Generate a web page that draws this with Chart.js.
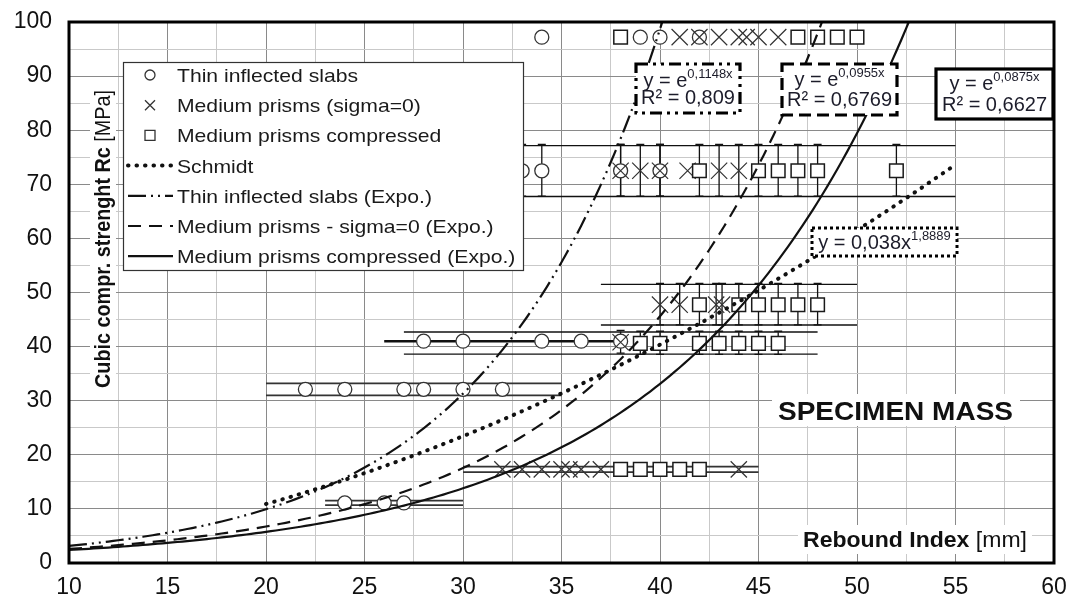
<!DOCTYPE html>
<html>
<head>
<meta charset="utf-8">
<script src="https://cdn.jsdelivr.net/npm/chart.js@4.4.1/dist/chart.umd.min.js"></script>
<style>
  html, body { margin: 0; padding: 0; background: #fff; }
  #wrap { width: 1072px; height: 601px; }
</style>
</head>
<body>
<div id="wrap"><canvas id="c" width="1072" height="601"></canvas></div>
<script>
// ---- Rebound index (x) vs cubic compressive strength Rc in MPa (y) ----

// Thin inflected slabs
const slabsX   = [34, 39, 40, 42,  33, 34, 38, 40,  28, 30, 34, 36, 38,  22, 24, 27, 28, 30, 32,  24, 26, 27];
const slabsY   = [97.2, 97.2, 97.2, 97.2,  72.5, 72.5, 72.5, 72.5,  41, 41, 41, 41, 41,
                  32.1, 32.1, 32.1, 32.1, 32.1, 32.1,  11.1, 11.1, 11.1];
const slabsErr = [0, 0, 0, 0,  4.7, 4.7, 4.7, 4.7,  0, 0, 0, 0, 0,  0, 0, 0, 0, 0, 0,  0, 0, 0];

// Medium prisms (sigma = 0)
const prismsX   = [41, 42, 43, 44, 44.4, 45, 46,  38, 39, 40, 41.4, 43, 44,  40, 41, 42.85, 43.15,  38,
                   32, 33, 34, 35, 35.4, 36, 37, 44];
const prismsY   = [97.2, 97.2, 97.2, 97.2, 97.2, 97.2, 97.2,  72.5, 72.5, 72.5, 72.5, 72.5, 72.5,
                   47.75, 47.75, 47.75, 47.75,  40.8,  17.3, 17.3, 17.3, 17.3, 17.3, 17.3, 17.3, 17.3];
const prismsErr = [0, 0, 0, 0, 0, 0, 0,  4.7, 4.7, 4.7, 0, 4.7, 4.7,  3.75, 3.75, 3.75, 3.75,  2.0,
                   0, 0, 0, 0, 0, 0, 0, 0];

// Medium prisms compressed
const comprX   = [38, 47, 48, 49, 50,  42, 45, 46, 47, 48, 52,  42, 44, 45, 46, 47, 48,
                  39, 40, 42, 43, 44, 45, 46,  38, 39, 40, 41, 42];
const comprY   = [97.2, 97.2, 97.2, 97.2, 97.2,  72.5, 72.5, 72.5, 72.5, 72.5, 72.5,
                  47.75, 47.75, 47.75, 47.75, 47.75, 47.75,  40.6, 40.6, 40.6, 40.6, 40.6, 40.6, 40.6,
                  17.3, 17.3, 17.3, 17.3, 17.3];
const comprErr = [0, 0, 0, 0, 0,  4.7, 4.7, 4.7, 4.7, 4.7, 4.7,  3.75, 3.75, 3.75, 3.75, 3.75, 3.75,
                  2.05, 2.05, 2.05, 2.05, 2.05, 2.05, 2.05,  0, 0, 0, 0, 0];

// Strength classes: centre, half width, rebound index range
const bandY    = [72.45, 47.75, 40.65, 32.1, 17.3, 11.1];
const bandHalf = [4.7, 3.75, 2.05, 1.1, 0.5, 0.42];
const bandFrom = [20, 37, 27, 20, 30, 23];
const bandTo   = [55, 50, 48, 35, 45, 30];

// Rebound range of the thin slabs at 41 MPa
const slabRangeY = 41, slabRangeFrom = 26, slabRangeTo = 38;

// Trend lines: y = e^(k x) and Schmidt y = a x^b
const expoK   = [0.1148, 0.0955, 0.0875];
const expoR2  = ['0,809', '0,6769', '0,6627'];
const powA = 0.038, powB = 1.8889;
const powRange = [20, 55];

const seriesNames = [
  'Thin inflected slabs',
  'Medium prisms (sigma=0)',
  'Medium prisms compressed',
  'Schmidt',
  'Thin inflected slabs (Expo.)',
  'Medium prisms - sigma=0 (Expo.)',
  'Medium prisms compressed (Expo.)'
];

const xTickLabels = ['10', '15', '20', '25', '30', '35', '40', '45', '50', '55', '60'];
const yTickLabels = ['0', '10', '20', '30', '40', '50', '60', '70', '80', '90', '100'];

// ---- helpers ----
const toPts = (xs, ys) => xs.map((v, i) => ({ x: v, y: ys[i] }));
const comma = v => String(v).replace('.', ',');

function expoCurve(k) {
  const pts = [];
  for (let i = 0; i <= 184; i++) {
    const xv = 10 + i * 0.25;
    const yv = Math.exp(k * xv);
    pts.push({ x: xv, y: yv });
    if (yv > 110) break;
  }
  return pts;
}
function powerCurve() {
  const pts = [];
  const n = Math.round((powRange[1] - powRange[0]) / 0.25);
  for (let i = 0; i <= n; i++) {
    const xv = powRange[0] + i * 0.25;
    pts.push({ x: xv, y: powA * Math.pow(xv, powB) });
  }
  return pts;
}

const INK = '#111';
const lineStyles = [
  { dash: [0.5, 8], width: 4, cap: 'round' },             // Schmidt
  { dash: [18, 5, 2, 5, 2, 5], width: 2.2, cap: 'butt' },  // thin slabs expo
  { dash: [13, 8], width: 2.2, cap: 'butt' },              // sigma=0 expo
  { dash: [], width: 2.2, cap: 'butt' }                    // compressed expo
];

const textFont = '"Liberation Sans", Arial, sans-serif';

function runsWidth(ctx, runs) {
  let w = 0;
  for (const r of runs) { ctx.font = r.font; w += ctx.measureText(r.text).width; }
  return w;
}
function drawRuns(ctx, runs, x, y, scale) {
  ctx.save();
  ctx.translate(x, y);
  ctx.scale(scale || 1, 1);
  let cx = 0;
  for (const r of runs) {
    ctx.font = r.font;
    ctx.fillText(r.text, cx, r.dy || 0);
    cx += ctx.measureText(r.text).width;
  }
  ctx.restore();
}

function drawMarker(ctx, kind, x, y, r) {
  ctx.save();
  ctx.fillStyle = '#fff';
  ctx.strokeStyle = '#333';
  ctx.lineWidth = 1.3;
  ctx.beginPath();
  if (kind === 'circle') {
    ctx.arc(x, y, r, 0, Math.PI * 2); ctx.fill(); ctx.stroke();
  } else if (kind === 'square') {
    ctx.rect(x - r, y - r, 2 * r, 2 * r); ctx.fill(); ctx.stroke();
  } else {
    ctx.moveTo(x - r, y - r); ctx.lineTo(x + r, y + r);
    ctx.moveTo(x + r, y - r); ctx.lineTo(x - r, y + r); ctx.stroke();
  }
  ctx.restore();
}

// error bars and class ranges, under the markers
const rangePlugin = {
  id: 'ranges',
  beforeDatasetsDraw(chart) {
    const { ctx, chartArea: a, scales: { x, y } } = chart;
    ctx.save();
    ctx.beginPath(); ctx.rect(a.left, a.top, a.width, a.height); ctx.clip();
    ctx.strokeStyle = INK;
    for (let i = 0; i < bandY.length; i++) {
      const x0 = x.getPixelForValue(bandFrom[i]), x1 = x.getPixelForValue(bandTo[i]);
      ctx.lineWidth = bandHalf[i] < 1.5 ? 1.8 : 1.4;
      ctx.strokeStyle = bandHalf[i] < 1.5 ? '#333' : INK;
      for (const s of [-1, 1]) {
        const py = y.getPixelForValue(bandY[i] + s * bandHalf[i]);
        ctx.beginPath(); ctx.moveTo(x0, py); ctx.lineTo(x1, py); ctx.stroke();
      }
    }
    // thick range line of the slabs
    ctx.strokeStyle = INK; ctx.lineWidth = 2.6;
    const ly = y.getPixelForValue(slabRangeY);
    ctx.beginPath();
    ctx.moveTo(x.getPixelForValue(slabRangeFrom), ly);
    ctx.lineTo(x.getPixelForValue(slabRangeTo), ly);
    ctx.stroke();
    // vertical error bars with caps
    ctx.lineWidth = 1.3;
    const sets = [[slabsX, slabsY, slabsErr], [prismsX, prismsY, prismsErr], [comprX, comprY, comprErr]];
    for (const [xs, ys, es] of sets) {
      xs.forEach((xv, i) => {
        if (!es[i]) return;
        const px = x.getPixelForValue(xv);
        const p0 = y.getPixelForValue(ys[i] + es[i]);
        const p1 = y.getPixelForValue(ys[i] - es[i]);
        ctx.beginPath();
        ctx.moveTo(px, p0); ctx.lineTo(px, p1);
        ctx.moveTo(px - 4, p0 - 1); ctx.lineTo(px + 4, p0 - 1);
        ctx.moveTo(px - 4, p1); ctx.lineTo(px + 4, p1);
        ctx.stroke();
      });
    }
    ctx.restore();
  }
};

// frame, legend, equations and titles
const overlayPlugin = {
  id: 'overlay',
  afterDraw(chart) {
    const { ctx, chartArea: a } = chart;
    ctx.save();
    ctx.textAlign = 'left';
    ctx.textBaseline = 'alphabetic';
    ctx.fillStyle = '#1a1a1a';

    // legend box
    const L = { x: 123, y: 62, w: 400, h: 208 };
    ctx.fillStyle = '#fff';
    ctx.fillRect(L.x, L.y, L.w, L.h);
    ctx.strokeStyle = '#333'; ctx.lineWidth = 1.2;
    ctx.strokeRect(L.x + 0.5, L.y + 0.5, L.w, L.h);
    const legFont = '19px ' + textFont;
    ctx.font = legFont;
    const legScale = 181 / ctx.measureText(seriesNames[0]).width;
    const kinds = ['circle', 'cross', 'square'];
    for (let i = 0; i < seriesNames.length; i++) {
      const ry = 75 + i * 30.2;
      if (i < 3) {
        drawMarker(ctx, kinds[i], 150, ry, 5);
      } else {
        const st = lineStyles[i - 3];
        ctx.save();
        ctx.strokeStyle = INK; ctx.lineWidth = st.width; ctx.lineCap = st.cap;
        ctx.setLineDash(st.dash);
        ctx.beginPath(); ctx.moveTo(128, ry); ctx.lineTo(173, ry); ctx.stroke();
        ctx.restore();
      }
      ctx.fillStyle = '#1a1a1a';
      drawRuns(ctx, [{ text: seriesNames[i], font: legFont }], 177, ry + 7, legScale);
    }

    // equation boxes
    const eqFont = '20px ' + textFont, supFont = '13px ' + textFont;
    const boxes = [
      { x: 636, y: 64, w: 104, h: 49, dash: [12, 5, 3, 5, 3, 5], k: 0, b1: 87, b2: 104 },
      { x: 782, y: 64, w: 115, h: 51, dash: [12, 6], k: 1, b1: 86, b2: 106 },
      { x: 936, y: 69, w: 117, h: 50, dash: [], k: 2, b1: 90, b2: 111 }
    ];
    for (const bx of boxes) {
      ctx.fillStyle = '#fff';
      ctx.fillRect(bx.x, bx.y, bx.w, bx.h);
      ctx.save();
      ctx.strokeStyle = '#000'; ctx.lineWidth = 3.2; ctx.setLineDash(bx.dash);
      ctx.strokeRect(bx.x, bx.y, bx.w, bx.h);
      ctx.restore();
      const cx = bx.x + bx.w / 2;
      const l1 = [{ text: 'y = e', font: eqFont }, { text: comma(expoK[bx.k]) + 'x', font: supFont, dy: -9 }];
      const l2 = [{ text: 'R² = ' + expoR2[bx.k], font: eqFont }];
      ctx.fillStyle = '#1c1c2a';
      drawRuns(ctx, l1, cx - runsWidth(ctx, l1) / 2, bx.b1);
      drawRuns(ctx, l2, cx - runsWidth(ctx, l2) / 2, bx.b2);
    }
    // Schmidt power law
    {
      const bx = { x: 812, y: 228, w: 145, h: 28 };
      ctx.fillStyle = '#fff';
      ctx.fillRect(bx.x, bx.y, bx.w, bx.h);
      ctx.save();
      ctx.strokeStyle = '#000'; ctx.lineWidth = 3; ctx.setLineDash([3, 3]);
      ctx.strokeRect(bx.x, bx.y, bx.w, bx.h);
      ctx.restore();
      const l = [{ text: 'y = ' + comma(powA) + 'x', font: eqFont }, { text: comma(powB), font: supFont, dy: -9 }];
      ctx.fillStyle = '#1c1c2a';
      drawRuns(ctx, l, bx.x + bx.w / 2 - runsWidth(ctx, l) / 2, 249);
    }

    // y axis title
    {
      ctx.fillStyle = '#fff';
      ctx.fillRect(90, 86, 26, 306);
      const runs = [
        { text: 'Cubic compr. strenght Rc ', font: 'bold 22px ' + textFont },
        { text: '[MPa]', font: '22px ' + textFont }
      ];
      const w = runsWidth(ctx, runs);
      ctx.save();
      ctx.translate(110, 239);
      ctx.rotate(-Math.PI / 2);
      ctx.fillStyle = '#111';
      drawRuns(ctx, runs, -149, 0, 298 / w);
      ctx.restore();
    }
    // x axis title
    {
      ctx.fillStyle = '#fff';
      ctx.fillRect(798, 525, 234, 29);
      const runs = [
        { text: 'Rebound Index ', font: 'bold 22px ' + textFont },
        { text: '[mm]', font: '22px ' + textFont }
      ];
      const w = runsWidth(ctx, runs);
      ctx.fillStyle = '#111';
      drawRuns(ctx, runs, 803, 547, 224 / w);
    }
    // specimen label
    {
      ctx.fillStyle = '#fff';
      ctx.fillRect(772, 394, 248, 32);
      const runs = [{ text: 'SPECIMEN MASS', font: 'bold 26px ' + textFont }];
      const w = runsWidth(ctx, runs);
      ctx.fillStyle = '#111';
      drawRuns(ctx, runs, 778, 420, 235 / w);
    }

    // plot frame
    ctx.strokeStyle = '#000';
    ctx.lineWidth = 3;
    ctx.strokeRect(a.left, a.top, a.right - a.left, a.bottom - a.top);
    ctx.restore();
  }
};

const markerBase = { showLine: false, pointBackgroundColor: '#fff', pointBorderColor: '#333',
                     pointHoverRadius: 0 };

new Chart(document.getElementById('c'), {
  type: 'scatter',
  data: {
    datasets: [
      { label: seriesNames[3], type: 'line', data: powerCurve(), order: 0,
        borderColor: INK, borderWidth: lineStyles[0].width, borderDash: lineStyles[0].dash,
        borderCapStyle: lineStyles[0].cap, pointRadius: 0, tension: 0, fill: false },
      { label: seriesNames[4], type: 'line', data: expoCurve(expoK[0]), order: 0,
        borderColor: INK, borderWidth: lineStyles[1].width, borderDash: lineStyles[1].dash,
        pointRadius: 0, tension: 0, fill: false },
      { label: seriesNames[5], type: 'line', data: expoCurve(expoK[1]), order: 0,
        borderColor: INK, borderWidth: lineStyles[2].width, borderDash: lineStyles[2].dash,
        pointRadius: 0, tension: 0, fill: false },
      { label: seriesNames[6], type: 'line', data: expoCurve(expoK[2]), order: 0,
        borderColor: INK, borderWidth: lineStyles[3].width,
        pointRadius: 0, tension: 0, fill: false },
      { label: seriesNames[2], data: toPts(comprX, comprY), order: 1, ...markerBase,
        pointStyle: 'rect', pointRadius: 9.6, pointBorderWidth: 1.5, pointBorderColor: '#1a1a1a' },
      { label: seriesNames[1], data: toPts(prismsX, prismsY), order: 2, ...markerBase,
        pointStyle: 'crossRot', pointRadius: 11.5, pointBorderWidth: 1.2 },
      { label: seriesNames[0], data: toPts(slabsX, slabsY), order: 3, ...markerBase,
        pointStyle: 'circle', pointRadius: 7, pointBorderWidth: 1.3 }
    ]
  },
  options: {
    responsive: false,
    animation: false,
    devicePixelRatio: 1,
    events: [],
    layout: { padding: { left: 0, right: 18, top: 22, bottom: 0 } },
    plugins: { legend: { display: false }, tooltip: { enabled: false } },
    scales: {
      x: {
        type: 'linear', min: 10, max: 60,
        afterFit(s) { s.height = 38; s.paddingLeft = 0; s.paddingRight = 0; },
        border: { display: false },
        grid: { drawTicks: false, lineWidth: 1,
                color: c => (c.tick && c.tick.value % 5 === 0) ? '#8a8a8a' : '#c9c9c9' },
        ticks: {
          stepSize: 2.5, autoSkip: false, maxRotation: 0, padding: 11, color: '#111',
          font: { family: textFont, size: 23 },
          callback: v => xTickLabels.includes(String(v)) ? String(v) : ''
        }
      },
      y: {
        type: 'linear', min: 0, max: 100,
        afterFit(s) { s.width = 69; s.paddingTop = 0; s.paddingBottom = 0; },
        border: { display: false },
        grid: { drawTicks: false, lineWidth: 1,
                color: c => (c.tick && c.tick.value % 10 === 0) ? '#8a8a8a' : '#c9c9c9' },
        ticks: {
          stepSize: 5, autoSkip: false, padding: 17, color: '#111',
          font: { family: textFont, size: 23 },
          callback: v => yTickLabels.includes(String(v)) ? String(v) : ''
        }
      }
    }
  },
  plugins: [rangePlugin, overlayPlugin]
});
</script>
</body>
</html>
